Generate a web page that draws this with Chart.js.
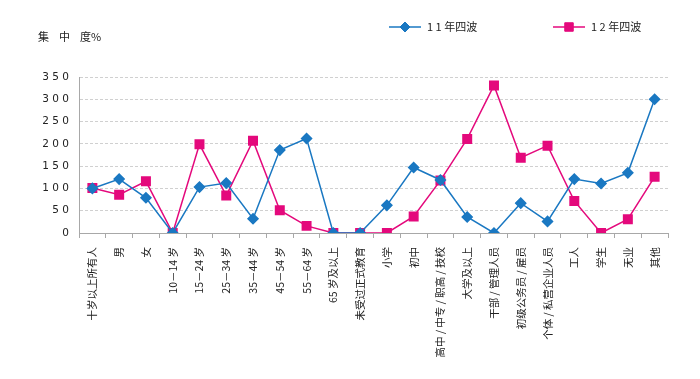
<!DOCTYPE html>
<html>
<head>
<meta charset="utf-8">
<script src="https://cdn.jsdelivr.net/npm/chart.js@4"></script>
<style>
  html, body { margin: 0; padding: 0; background: #fff; }
  #wrap { width: 700px; height: 379px; }
</style>
</head>
<body>
<div id="wrap"><canvas id="trend_chart" width="700" height="379"></canvas></div>
<script>
// Data
var categories = [
    "十岁以上所有人", "男", "女", "10－14 岁", "15－24 岁", "25－34 岁",
    "35－44 岁", "45－54 岁", "55－64 岁", "65 岁及以上", "未受过正式教育",
    "小学", "初中", "高中 / 中专 / 职高 / 技校", "大学及以上", "干部 / 管理人员",
    "初级公务员 / 雇员", "个体 / 私营企业人员", "工人", "学生", "无业", "其他"
];
var wave11 = [100, 121, 79, 0, 103, 112, 32, 186, 212, 0, 0, 62, 147, 119, 36, 0, 67, 26, 121, 111, 135, 300];
var wave12 = [101, 86, 116, 0, 199, 84, 207, 51, 16, 0, 0, 0, 37, 118, 211, 331, 169, 196, 72, 0, 31, 126];
var seriesNames = ["1 1 年四波", "1 2 年四波"];
var yTicks = [0, 50, 100, 150, 200, 250, 300, 350];
var yTitle = ["集", "中", "度%"];

var cjk = "'Noto Sans CJK SC', 'DejaVu Sans', sans-serif";

// Title + legend drawn by hand (line with marker)
var headerPlugin = {
    id: "header",
    afterDraw: function (chart) {
        var ctx = chart.ctx;
        ctx.save();
        ctx.fillStyle = "#222";
        ctx.font = "11px " + cjk;
        ctx.textBaseline = "middle";
        ctx.textAlign = "left";
        // spaced-out axis title
        var tx = 38;
        yTitle.forEach(function (s) {
            ctx.fillText(s, tx, 37);
            tx += ctx.measureText(s).width + 10;
        });

        var items = [
            { x: 389, ds: chart.data.datasets[0] },
            { x: 553, ds: chart.data.datasets[1] }
        ];
        items.forEach(function (it) {
            var y = 27;
            ctx.strokeStyle = it.ds.borderColor;
            ctx.lineWidth = 1.5;
            ctx.beginPath();
            ctx.moveTo(it.x, y);
            ctx.lineTo(it.x + 32, y);
            ctx.stroke();
            ctx.fillStyle = it.ds.pointBackgroundColor;
            ctx.strokeStyle = it.ds.pointBorderColor;
            ctx.lineWidth = 1;
            Chart.helpers.drawPoint(ctx, {
                pointStyle: it.ds.pointStyle,
                radius: it.ds.pointRadius,
                borderWidth: 1
            }, it.x + 16, y);
            ctx.fillStyle = "#222";
            ctx.fillText(it.ds.label, it.x + 38, y);
        });
        ctx.restore();
    }
};

var ctx = document.getElementById("trend_chart").getContext("2d");

new Chart(ctx, {
    type: "line",
    data: {
        labels: categories,
        datasets: [{
            label: seriesNames[0],
            data: wave11,
            borderColor: "#1a78c2",
            backgroundColor: "#1a78c2",
            pointBackgroundColor: "#1a78c2",
            pointBorderColor: "#1a78c2",
            pointStyle: "rectRot",
            pointRadius: 5,
            borderWidth: 1.5,
            tension: 0
        }, {
            label: seriesNames[1],
            data: wave12,
            borderColor: "#e4097c",
            backgroundColor: "#e4097c",
            pointBackgroundColor: "#e4097c",
            pointBorderColor: "#e4097c",
            pointStyle: "rect",
            pointRadius: 6,
            borderWidth: 1.5,
            tension: 0
        }]
    },
    options: {
        responsive: false,
        animation: false,
        layout: { padding: { top: 77, right: 32, left: 0, bottom: 0 } },
        plugins: {
            legend: { display: false },
            tooltip: { enabled: false }
        },
        scales: {
            x: {
                offset: true,
                grid: {
                    offset: true,
                    drawOnChartArea: false,
                    drawTicks: true,
                    tickLength: 5,
                    color: "#a8a8a8"
                },
                border: { color: "#a8a8a8" },
                ticks: {
                    autoSkip: false,
                    maxRotation: 90,
                    minRotation: 90,
                    padding: 9,
                    color: "#222",
                    font: { family: cjk, size: 10.5 }
                },
                afterFit: function (scale) { scale.height = 146; }
            },
            y: {
                min: 0,
                max: 350,
                afterBuildTicks: function (scale) {
                    scale.ticks = yTicks.map(function (v) { return { value: v }; });
                },
                grid: {
                    drawTicks: false,
                    color: "#d0d0d0"
                },
                border: { color: "#a8a8a8", dash: [3, 2] },
                ticks: {
                    padding: 10,
                    color: "#222",
                    font: { family: "'DejaVu Sans', sans-serif", size: 10.5 },
                    callback: function (v) { return String(v).split("").join(" "); }
                },
                afterFit: function (scale) { scale.width = 79; }
            }
        }
    },
    plugins: [headerPlugin]
});
</script>
</body>
</html>
